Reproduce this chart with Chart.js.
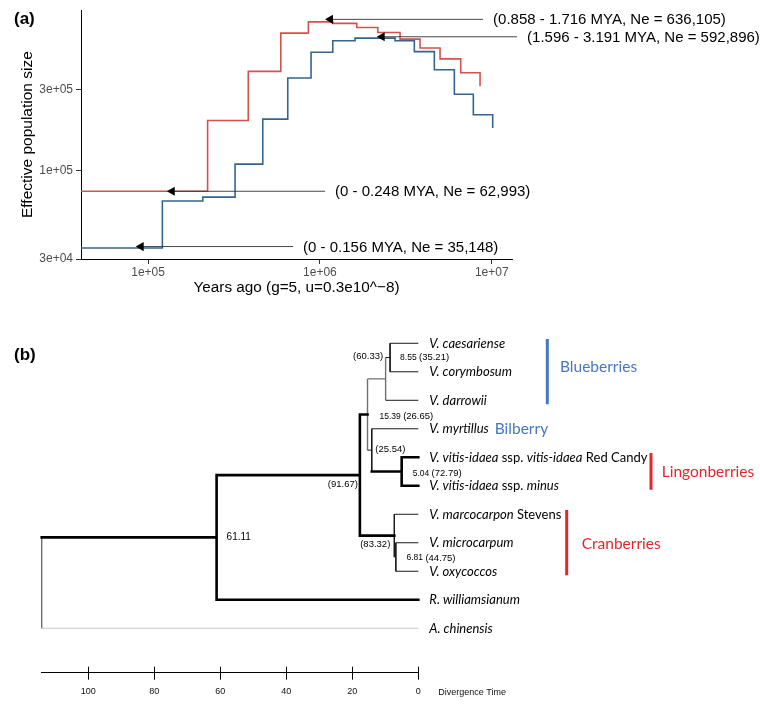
<!DOCTYPE html>
<html>
<head>
<meta charset="utf-8">
<script src="https://cdn.jsdelivr.net/npm/chart.js@4.4.1/dist/chart.umd.min.js"></script>
<style>
  html, body { margin: 0; padding: 0; background: #fff; }
  #wrap { width: 760px; height: 705px; }
  canvas { display: block; }
</style>
</head>
<body>
<div id="wrap">
  <canvas id="psmc" width="760" height="300"></canvas>
  <canvas id="tree" width="760" height="405"></canvas>
</div>
<script>
'use strict'

// ---- (a) PSMC curves: start of each step (years ago) and Ne of that step
const redYears = [40700, 222000, 383000, 592000, 857000, 1188000, 1639000, 2171000, 2927000, 3826000, 5003000, 6600000, 8550000]
const redNe = [75300, 197000, 384000, 645000, 752000, 737000, 696000, 651000, 595000, 527000, 455000, 377000, 314000]
const blueYears = [40700, 121100, 208100, 320800, 465000, 650000, 888000, 1188000, 1601000, 2737000, 3545000, 4634000, 6059000, 7815000, 10130000]
const blueNe = [34800, 65900, 69500, 108800, 200700, 351000, 498000, 582000, 603000, 582000, 502000, 392000, 281000, 213000, 178000]

// arrows pointing at the curves
const arrowText = [
  '(0.858 - 1.716 MYA, Ne = 636,105)',
  '(1.596 - 3.191 MYA, Ne = 592,896)',
  '(0 - 0.248 MYA, Ne = 62,993)',
  '(0 - 0.156 MYA, Ne = 35,148)',
]
const arrowHeadYears = [1150000, 2300000, 138000, 91000]
const arrowTailYears = [8900000, 14040000, 1072000, 698000]
const arrowNe = [778000, 614000, 75300, 35530]

const xTicksA = [1e5, 1e6, 1e7]
const yTicksA = [3e4, 1e5, 3e5]

// ---- (b) dated tree
const tipNames = [
  '*V. caesariense*',
  '*V. corymbosum*',
  '*V. darrowii*',
  '*V. myrtillus*',
  '*V. vitis-idaea* ssp. *vitis-idaea* Red Candy',
  '*V. vitis-idaea* ssp. *minus*',
  '*V. marcocarpon* Stevens',
  '*V. microcarpum*',
  '*V. oxycoccos*',
  '*R. williamsianum*',
  '*A. chinensis*',
]
const tipParent = [5, 5, 4, 6, 7, 7, 8, 9, 9, 1, 0]
const nodeParent = [-1, 0, 1, 2, 3, 4, 3, 6, 2, 8]
const nodeAge = [114.1, 61.11, 17.7, 15.39, 9.9, 8.55, 14.1, 5.04, 7.27, 6.81]
const nodeAgeLabel = ['', '61.11', '', '15.39', '', '8.55', '', '5.04', '', '6.81']
const nodeSupport = ['', '', '(91.67)', '(26.65)', '(60.33)', '(35.21)', '(25.54)', '(72.79)', '(83.32)', '(44.75)']
const cladeNames = ['Blueberries', 'Bilberry', 'Lingonberries', 'Cranberries']
const cladeFirstTip = [0, 3, 4, 6]
const cladeLastTip = [2, 3, 5, 8]
const timeTicks = [100, 80, 60, 40, 20, 0]

const FONT = '"Liberation Sans", Arial, Helvetica, sans-serif'
const TIP_FONT = 'Lato, "Open Sans", sans-serif'
const RED = '#d6504f'
const BLUE = '#34648f'
const CLADE_BLUE = '#4777c1'
const CLADE_RED = '#e3262c'

function sci(v) {
  const e = Math.round(Math.log10(v))
  const m = Math.round(v / Math.pow(10, e))
  return `${m}e+${String(e).padStart(2, '0')}`
}

const psmcText = {
  id: 'psmcText',
  afterDatasetsDraw(chart) {
    const { ctx, scales: { x, y } } = chart
    ctx.save()
    ctx.fillStyle = '#000'
    ctx.textBaseline = 'middle'
    ctx.font = `15px ${FONT}`
    arrowText.forEach((t, i) => {
      ctx.fillText(t, x.getPixelForValue(arrowTailYears[i]) + 10, y.getPixelForValue(arrowNe[i]) + 1)
    })
    ctx.font = `bold 17px ${FONT}`
    ctx.fillText('(a)', 14, 19)
    ctx.restore()
  },
}

new Chart(document.getElementById('psmc'), {
  type: 'line',
  data: {
    datasets: [
      ...arrowText.map((_, i) => ({
        data: [
          { x: arrowTailYears[i], y: arrowNe[i] },
          { x: arrowHeadYears[i], y: arrowNe[i] },
        ],
        borderColor: '#333',
        borderWidth: 0.9,
        pointRadius: (c) => (c.dataIndex === 1 ? 5.3 : 0),
        pointStyle: 'triangle',
        rotation: 270,
        pointBackgroundColor: '#000',
        pointBorderColor: '#000',
        pointBorderWidth: 0,
        clip: false,
        order: 0,
      })),
      {
        data: redYears.map((v, i) => ({ x: v, y: redNe[i] })),
        borderColor: RED,
        borderWidth: 1.6,
        stepped: 'before',
        pointRadius: 0,
        order: 1,
      },
      {
        data: blueYears.map((v, i) => ({ x: v, y: blueNe[i] })),
        borderColor: BLUE,
        borderWidth: 1.6,
        stepped: 'before',
        pointRadius: 0,
        order: 1,
      },
    ],
  },
  options: {
    responsive: false,
    animation: false,
    events: [],
    layout: { padding: { left: 0, right: 248, top: 8, bottom: 0 } },
    plugins: { legend: { display: false }, tooltip: { enabled: false } },
    scales: {
      x: {
        type: 'logarithmic',
        min: 40700,
        max: 1.312e7,
        afterBuildTicks: (s) => { s.ticks = xTicksA.map((v) => ({ value: v })) },
        afterFit: (s) => { s.height = 41 },
        ticks: { callback: (v) => sci(v), color: '#4d4d4d', font: { family: FONT, size: 12 }, padding: 1, autoSkip: false, maxRotation: 0 },
        grid: { drawOnChartArea: false, drawTicks: true, tickLength: 5, tickColor: '#333', tickWidth: 1 },
        border: { display: true, color: '#000', width: 1 },
        title: { display: true, text: 'Years ago (g=5, u=0.3e10^\u22128)', color: '#000', font: { family: FONT, size: 15.3 }, padding: { top: 0, bottom: 3.5 } },
      },
      y: {
        type: 'logarithmic',
        min: 3e4,
        max: 8.81e5,
        afterBuildTicks: (s) => { s.ticks = yTicksA.map((v) => ({ value: v })) },
        afterFit: (s) => { s.width = 81 },
        ticks: { callback: (v) => sci(v), color: '#4d4d4d', font: { family: FONT, size: 12 }, padding: 3, autoSkip: false },
        grid: { drawOnChartArea: false, drawTicks: true, tickLength: 5, tickColor: '#333', tickWidth: 1 },
        border: { display: true, color: '#000', width: 1 },
        title: { display: true, text: 'Effective population size', color: '#000', font: { family: FONT, size: 15.5 }, padding: { top: 18, bottom: 0 } },
      },
    },
  },
  plugins: [psmcText],
})

// ---- tree layout: tips on rows 1..n, nodes centred on their children
const nodeKids = nodeParent.map(() => [])
nodeParent.forEach((p, i) => { if (p >= 0) nodeKids[p].push({ node: i }) })
tipParent.forEach((p, i) => nodeKids[p].push({ tip: i }))

const nodeY = []
function yOf(k) {
  if (k.tip !== undefined) return k.tip + 1
  return nodeRow(k.node)
}
function nodeRow(i) {
  if (nodeY[i] !== undefined) return nodeY[i]
  const ys = nodeKids[i].map(yOf)
  nodeY[i] = (Math.min(...ys) + Math.max(...ys)) / 2
  return nodeY[i]
}
nodeParent.forEach((_, i) => nodeRow(i))

// branch styles
const thickVert = [1, 2, 7]
const grayVert = [0, 3, 4]
const thickEdge = ['n1', 'n2', 'n3', 'n7', 'n8', 't4', 't5', 't9']
const grayEdge = ['n4']
const lightEdge = ['t10']

const seg = { thick: [], thin: [], gray: [], light: [] }
function addSeg(kind, a, b) {
  seg[kind].push(a, b, { x: null, y: null })
}
nodeParent.forEach((_, i) => {
  const ys = nodeKids[i].map(yOf)
  const kind = thickVert.includes(i) ? 'thick' : grayVert.includes(i) ? 'gray' : 'thin'
  addSeg(kind, { x: nodeAge[i], y: Math.min(...ys) }, { x: nodeAge[i], y: Math.max(...ys) })
})
function edgeKind(key) {
  if (thickEdge.includes(key)) return 'thick'
  if (grayEdge.includes(key)) return 'gray'
  if (lightEdge.includes(key)) return 'light'
  return 'thin'
}
nodeParent.forEach((p, i) => {
  if (p < 0) return
  addSeg(edgeKind('n' + i), { x: nodeAge[p], y: nodeY[i] }, { x: nodeAge[i], y: nodeY[i] })
})
tipParent.forEach((p, i) => {
  addSeg(edgeKind('t' + i), { x: nodeAge[p], y: i + 1 }, { x: 0, y: i + 1 })
})

const segStyle = {
  thick: { color: '#000', width: 2.6, cap: 'square' },
  thin: { color: '#1a1a1a', width: 1, cap: 'butt' },
  gray: { color: '#707070', width: 1.4, cap: 'butt' },
  light: { color: '#c6c6c6', width: 1, cap: 'butt' },
}

// label placement next to nodes: side, dx, dy (pixels)
const nodeLabelPlace = {
  1: ['r', 10, 0], 2: ['l', -2, 9.5], 3: ['r', 12, 2], 4: ['l', -2.5, -23], 5: ['r', 10, 0],
  6: ['r', 3.5, -1], 7: ['r', 11, 2], 8: ['l', -4, 9], 9: ['r', 10.7, 1],
}
const cladeBarX = [547.3, null, 651, 566.7]
const cladeLabelDx = [12.7, 6, 10.7, 15]
const cladeLabelDy = [-4.5, 0, 1, 1]
const cladeColor = [CLADE_BLUE, CLADE_BLUE, CLADE_RED, CLADE_RED]

function drawRich(ctx, text, x, y, size) {
  text.split('*').forEach((p, k) => {
    if (!p) return
    ctx.font = `${k % 2 ? 'italic ' : ''}${size}px ${TIP_FONT}`
    ctx.fillText(p, x, y)
    x += ctx.measureText(p).width
  })
  return x
}

const treeText = {
  id: 'treeText',
  afterDatasetsDraw(chart) {
    const { ctx, scales: { x, y } } = chart
    ctx.save()
    ctx.textBaseline = 'middle'
    ctx.fillStyle = '#000'

    // tip labels
    const tipX = x.getPixelForValue(0) + 11
    const tipEnd = tipNames.map((t, i) => drawRich(ctx, t, tipX, y.getPixelForValue(i + 1) + 0.5, 13))

    // node ages and support values
    nodeParent.forEach((_, i) => {
      const place = nodeLabelPlace[i]
      if (!place) return
      const age = nodeAgeLabel[i]
      const sup = nodeSupport[i]
      const ageSize = sup ? 8.5 : 10
      ctx.font = `${ageSize}px ${FONT}`
      const wAge = age ? ctx.measureText(age + (sup ? ' ' : '')).width : 0
      ctx.font = `9.5px ${FONT}`
      const wSup = sup ? ctx.measureText(sup).width : 0
      const nx = x.getPixelForValue(nodeAge[i])
      const ny = y.getPixelForValue(nodeY[i]) + place[2]
      let lx = place[0] === 'r' ? nx + place[1] : nx + place[1] - wAge - wSup
      if (age) {
        ctx.font = `${ageSize}px ${FONT}`
        ctx.fillText(age, lx, ny)
        lx += wAge
      }
      if (sup) {
        ctx.font = `9.5px ${FONT}`
        ctx.fillText(sup, lx, ny)
      }
    })

    // clade bars and names
    cladeNames.forEach((name, c) => {
      const y0 = y.getPixelForValue(cladeFirstTip[c] + 1 - 0.15)
      const y1 = y.getPixelForValue(cladeLastTip[c] + 1 + 0.14)
      ctx.fillStyle = cladeColor[c]
      let lx
      if (cladeBarX[c] !== null) {
        ctx.fillRect(cladeBarX[c] - 1.5, y0, 3, y1 - y0)
        lx = cladeBarX[c] + cladeLabelDx[c]
      } else {
        lx = tipEnd[cladeFirstTip[c]] + cladeLabelDx[c]
      }
      ctx.font = `15.5px ${TIP_FONT}`
      ctx.fillText(name, lx, (y0 + y1) / 2 + cladeLabelDy[c])
    })

    // upper half of the scale-bar ticks and its caption
    ctx.strokeStyle = '#000'
    ctx.lineWidth = 1
    const axisY = chart.chartArea.bottom
    timeTicks.forEach((t) => {
      const px = Math.round(x.getPixelForValue(t)) + 0.5
      ctx.beginPath()
      ctx.moveTo(px, axisY - 6)
      ctx.lineTo(px, axisY)
      ctx.stroke()
    })
    ctx.fillStyle = '#111'
    ctx.font = `9px ${FONT}`
    ctx.fillText('Divergence Time', x.getPixelForValue(0) + 20, axisY + 19.5)

    ctx.fillStyle = '#000'
    ctx.font = `bold 17px ${FONT}`
    ctx.fillText('(b)', 14, 55)
    ctx.restore()
  },
}

new Chart(document.getElementById('tree'), {
  type: 'line',
  data: {
    datasets: Object.keys(seg).map((k) => ({
      data: seg[k],
      borderColor: segStyle[k].color,
      borderWidth: segStyle[k].width,
      borderCapStyle: segStyle[k].cap,
      borderJoinStyle: 'miter',
      pointRadius: 0,
      spanGaps: false,
      clip: false,
    })),
  },
  options: {
    responsive: false,
    animation: false,
    events: [],
    layout: { padding: { left: 41.7, right: 341.7, top: 14.8, bottom: 0 } },
    plugins: { legend: { display: false }, tooltip: { enabled: false } },
    scales: {
      x: {
        type: 'linear',
        reverse: true,
        min: 0,
        max: 114.1,
        afterBuildTicks: (s) => { s.ticks = timeTicks.map((v) => ({ value: v })) },
        afterFit: (s) => { s.height = 32.3 },
        ticks: { color: '#111', font: { family: FONT, size: 9 }, padding: 6, autoSkip: false, maxRotation: 0 },
        grid: { drawOnChartArea: false, drawTicks: true, tickLength: 7, tickColor: '#000', tickWidth: 1 },
        border: { display: true, color: '#000', width: 1 },
      },
      y: { type: 'linear', reverse: true, min: 0, max: 12.56, display: false },
    },
  },
  plugins: [treeText],
})
</script>
</body>
</html>
